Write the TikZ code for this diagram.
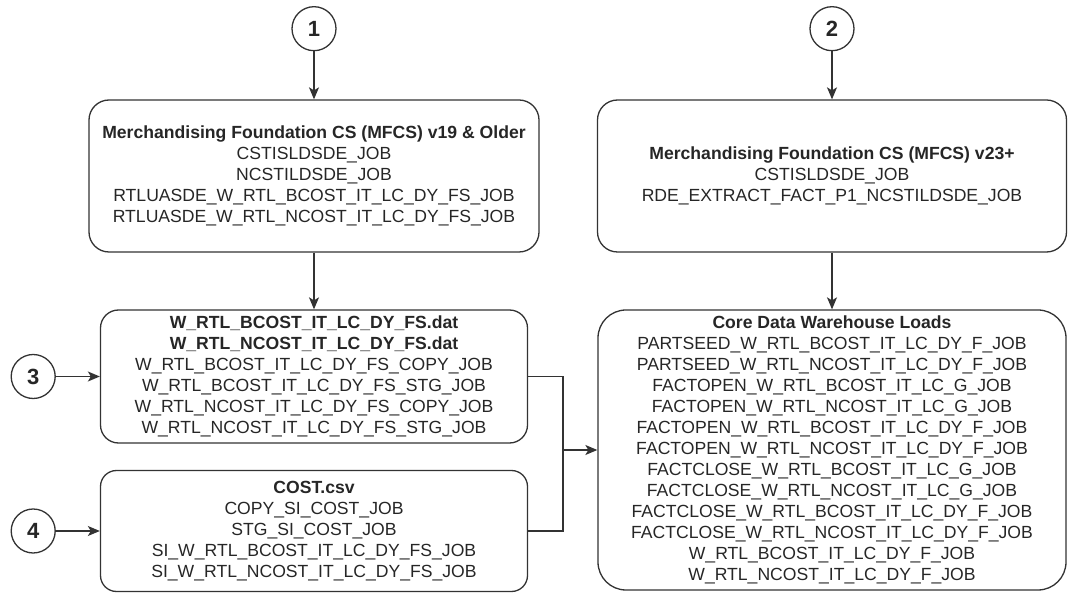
\documentclass[tikz,border=0pt]{standalone}
\usepackage{fontspec}
\setmainfont{Liberation Sans}
\usetikzlibrary{positioning,arrows.meta}

\begin{document}
\begin{tikzpicture}[x=1pt, y=-1pt,
	box/.style={draw=black!80, line width=1.3pt, rounded corners=20pt, align=center, text=black!85, font=\fontsize{17.6}{21}\selectfont},
	num/.style={circle, draw=black!80, line width=1.3pt, minimum size=44pt, inner sep=0pt, text=black!85, font=\fontsize{22}{24}\selectfont\bfseries},
	link/.style={->, draw=black!80, line width=1.3pt},
	>={Stealth[length=12pt, width=10pt, inset=3pt]}
	]
	\useasboundingbox (0,0) rectangle (1069,593);
	
	\node[box, minimum width=450pt, minimum height=152pt] (mf19) at (314,176) {\textbf{Merchandising Foundation CS (MFCS) v19 \& Older}\\CSTISLDSDE\_JOB\\NCSTILDSDE\_JOB\\RTLUASDE\_W\_RTL\_BCOST\_IT\_LC\_DY\_FS\_JOB\\RTLUASDE\_W\_RTL\_NCOST\_IT\_LC\_DY\_FS\_JOB};
	\node[box, minimum width=469pt, minimum height=152pt] (mf23) at (832,176) {\textbf{Merchandising Foundation CS (MFCS) v23+}\\CSTISLDSDE\_JOB\\RDE\_EXTRACT\_FACT\_P1\_NCSTILDSDE\_JOB};
	
	\node[box, minimum width=427pt, minimum height=133pt, rounded corners=18pt] (dat) at (314,376.5) {\textbf{W\_RTL\_BCOST\_IT\_LC\_DY\_FS.dat}\\\textbf{W\_RTL\_NCOST\_IT\_LC\_DY\_FS.dat}\\W\_RTL\_BCOST\_IT\_LC\_DY\_FS\_COPY\_JOB\\W\_RTL\_BCOST\_IT\_LC\_DY\_FS\_STG\_JOB\\W\_RTL\_NCOST\_IT\_LC\_DY\_FS\_COPY\_JOB\\W\_RTL\_NCOST\_IT\_LC\_DY\_FS\_STG\_JOB};
	\node[box, minimum width=427pt, minimum height=121pt, rounded corners=16pt] (csv) at (314,531) {\textbf{COST.csv}\\COPY\_SI\_COST\_JOB\\STG\_SI\_COST\_JOB\\SI\_W\_RTL\_BCOST\_IT\_LC\_DY\_FS\_JOB\\SI\_W\_RTL\_NCOST\_IT\_LC\_DY\_FS\_JOB};
	
	\node[box, minimum width=468pt, minimum height=280pt, rounded corners=28pt] (dw) at (832,450) {\textbf{Core Data Warehouse Loads}\\PARTSEED\_W\_RTL\_BCOST\_IT\_LC\_DY\_F\_JOB\\PARTSEED\_W\_RTL\_NCOST\_IT\_LC\_DY\_F\_JOB\\FACTOPEN\_W\_RTL\_BCOST\_IT\_LC\_G\_JOB\\FACTOPEN\_W\_RTL\_NCOST\_IT\_LC\_G\_JOB\\FACTOPEN\_W\_RTL\_BCOST\_IT\_LC\_DY\_F\_JOB\\FACTOPEN\_W\_RTL\_NCOST\_IT\_LC\_DY\_F\_JOB\\FACTCLOSE\_W\_RTL\_BCOST\_IT\_LC\_G\_JOB\\FACTCLOSE\_W\_RTL\_NCOST\_IT\_LC\_G\_JOB\\FACTCLOSE\_W\_RTL\_BCOST\_IT\_LC\_DY\_F\_JOB\\FACTCLOSE\_W\_RTL\_NCOST\_IT\_LC\_DY\_F\_JOB\\W\_RTL\_BCOST\_IT\_LC\_DY\_F\_JOB\\W\_RTL\_NCOST\_IT\_LC\_DY\_F\_JOB};
	
	\node[num] (c1) [above=48pt of mf19] {1};
	\node[num] (c2) [above=48pt of mf23] {2};
	\node[num] (c3) [left=44pt of dat] {3};
	\node[num] (c4) [left=44pt of csv] {4};
	
	\coordinate (m) at (563,450);
	
	\draw [link] (c1) -- (mf19);
	\draw [link] (c2) -- (mf23);
	\draw [link] (c3) -- (dat);
	\draw [link] (c4) -- (csv);
	\draw [link] (mf19) -- (dat);
	\draw [link] (mf23) -- (dw);
	
	\draw [draw=black!80, line width=1.3pt] (dat.east) -| (m) |- (csv.east);
	\draw [link] (m) -- (dw.west);
	
\end{tikzpicture}
\end{document}
